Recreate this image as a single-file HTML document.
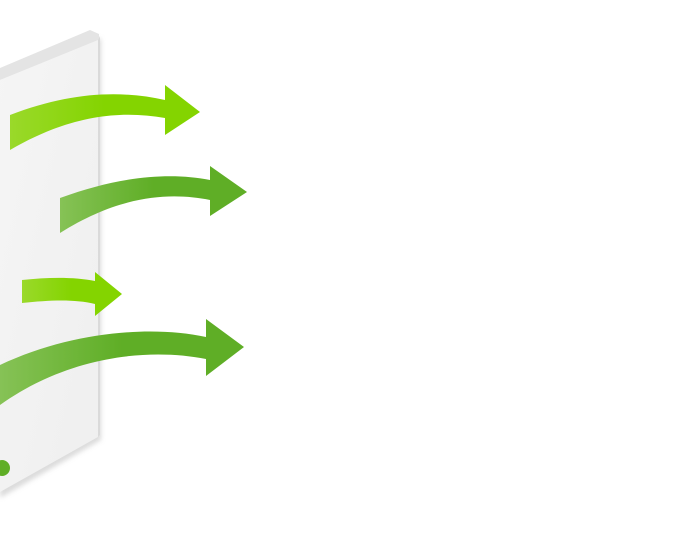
<!DOCTYPE html>
<html><head><style>
html,body{margin:0;padding:0;background:#fff;width:676px;height:541px;overflow:hidden}
</style></head><body>
<svg width="676" height="541" viewBox="0 0 676 541" xmlns="http://www.w3.org/2000/svg">
<defs>
<linearGradient id="face" x1="0" y1="0" x2="1" y2="1">
<stop offset="0" stop-color="#f5f5f5"/><stop offset="1" stop-color="#efefef"/></linearGradient>
<linearGradient id="lg" x1="0" y1="0" x2="1" y2="0">
<stop offset="0" stop-color="#9ad92a"/><stop offset="0.5" stop-color="#84d400"/><stop offset="1" stop-color="#84d400"/></linearGradient>
<linearGradient id="dg" x1="0" y1="0" x2="1" y2="0">
<stop offset="0" stop-color="#86c256"/><stop offset="0.5" stop-color="#5fae26"/><stop offset="1" stop-color="#5fae26"/></linearGradient>
<filter id="sh" x="-20%" y="-20%" width="140%" height="140%"><feGaussianBlur stdDeviation="2.5"/></filter>
</defs>
<polygon points="0,80 101,38 101,440 0,498" fill="#c4c4c4" filter="url(#sh)" opacity="0.6"/>
<polygon points="0,68 90,30 99,34 99,40 0,80" fill="#e4e4e4"/>
<polygon points="0,80 98,40 98,437 0,492" fill="url(#face)"/>
<polygon points="98,40 100,36 100,435 98,437" fill="#dadada"/>
<path d="M10,115 C70,92 120,90 165,100 L165,85 L200,112 L165,135 L165,118 C120,110 70,115 10,150 Z" fill="url(#lg)"/>
<path d="M60,198 C120,176 170,172 210,180 L210,166 L247,192 L210,216 L210,200 C170,192 120,195 60,233 Z" fill="url(#dg)"/>
<path d="M22,280 C50,277 75,277 95,281 L95,272 L122,294 L95,316 L95,304 C75,299 50,300 22,303 Z" fill="url(#lg)"/>
<path d="M0,365 C70,332 150,325 206,337 L206,319 L244,347 L206,376 L206,359 C150,348 70,355 0,405 Z" fill="url(#dg)"/>
<circle cx="2" cy="468" r="8" fill="#5fae26"/>
</svg>
</body></html>
